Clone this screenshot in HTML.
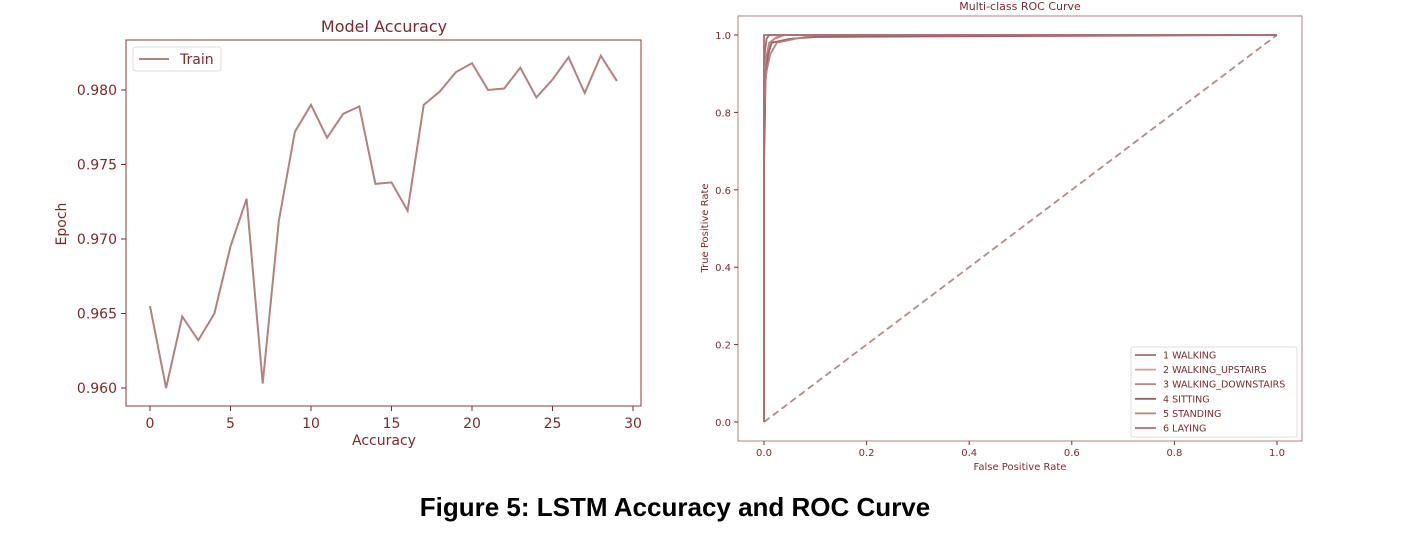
<!DOCTYPE html>
<html><head><meta charset="utf-8"><style>
body{margin:0;background:#fff;}
svg{display:block;font-family:"DejaVu Sans","Liberation Sans",sans-serif;}
</style></head><body>
<svg id="fig" width="1408" height="538" viewBox="0 0 1408 538">
<g id="left"></g>
<g id="right"></g>
<text x="675" y="516" text-anchor="middle" font-family="Liberation Sans, sans-serif" font-weight="bold" font-size="26" fill="#000">Figure 5:  LSTM Accuracy and ROC Curve</text>
</svg>
<script>
const epochs=[0,1,2,3,4,5,6,7,8,9,10,11,12,13,14,15,16,17,18,19,20,21,22,23,24,25,26,27,28,29];
const trainAcc=[0.9655,0.9600,0.9648,0.9632,0.9650,0.9695,0.9727,0.9603,0.9712,0.9772,0.9790,0.9768,0.9784,0.9789,0.9737,0.9738,0.9719,0.9790,0.9799,0.9812,0.9818,0.9800,0.9801,0.9815,0.9795,0.9807,0.9822,0.9798,0.9823,0.9806];
const xTicks=[0,5,10,15,20,25,30];
const yTicks=[0.960,0.965,0.970,0.975,0.980];
const rocClasses=["1 WALKING","2 WALKING_UPSTAIRS","3 WALKING_DOWNSTAIRS","4 SITTING","5 STANDING","6 LAYING"];
const rocFpr=[[0,0,0.002,0.005,0.01,1],[0,0,0.005,0.01,0.02,0.03,1],[0,0,0.004,0.01,0.02,0.04,1],[0,0,0.003,0.008,0.015,0.05,0.1,1],[0,0,0.004,0.012,0.025,0.06,0.1,1],[0,0,0,1]];
const rocTpr=[[0,0.9,0.96,0.99,1,1],[0,0.85,0.93,0.97,0.99,1,1],[0,0.88,0.94,0.98,0.99,1,1],[0,0.65,0.88,0.95,0.98,0.99,0.995,1],[0,0.8,0.9,0.95,0.98,0.99,1,1],[0,0.99,1,1]];
const rocTicks=[0,0.2,0.4,0.6,0.8,1.0];
const NS="http://www.w3.org/2000/svg";
function mk(p,t,a,txt){const e=document.createElementNS(NS,t);for(const k in a)e.setAttribute(k,a[k]);if(txt!==undefined)e.textContent=txt;p.appendChild(e);return e;}
const TC="#7b2b2b", LC="#b08282";
const L=document.getElementById('left');
const lx=v=>150+(v-0)*(633-150)/30, ly=v=>388-(v-0.960)*(388-90)/0.020;
let r=mk(L,'rect',{x:126,y:40,width:515,height:366,fill:'none',stroke:'#8a3a3a','stroke-width':1});

xTicks.forEach(t=>{mk(L,'line',{x1:lx(t),x2:lx(t),y1:406,y2:411,stroke:TC});
 let tx=mk(L,'text',{x:lx(t),y:428,'text-anchor':'middle','font-size':14,fill:TC},t);
 });
yTicks.forEach(t=>{mk(L,'line',{x1:121,x2:126,y1:ly(t),y2:ly(t),stroke:TC});
 let tx=mk(L,'text',{x:117,y:ly(t)+5,'text-anchor':'end','font-size':14,fill:TC},t.toFixed(3));
 });
let pl=mk(L,'polyline',{points:epochs.map((e,i)=>lx(e)+','+ly(trainAcc[i])).join(' '),fill:'none',stroke:LC,'stroke-width':2});

let t1=mk(L,'text',{x:384,y:32,'text-anchor':'middle','font-size':16,fill:TC},'Model Accuracy');

let t2=mk(L,'text',{x:384,y:445,'text-anchor':'middle','font-size':14,fill:TC},'Accuracy');

let t3=mk(L,'text',{x:66,y:224,'text-anchor':'middle','font-size':14,fill:TC,transform:'rotate(-90 66 224)'},'Epoch');

let lg=mk(L,'g',{});

mk(lg,'rect',{x:133,y:47,width:88,height:24,fill:'#fff',stroke:'#ddd',rx:3});
mk(lg,'line',{x1:139,x2:169,y1:59,y2:59,stroke:LC,'stroke-width':2});
mk(lg,'text',{x:180,y:64,'font-size':14,fill:TC},'Train');
const R=document.getElementById('right');
const rx=v=>764+v*(1277-764), ry=v=>422-v*(422-35);
let r2=mk(R,'rect',{x:738,y:16,width:564,height:425,fill:'none',stroke:LC,'stroke-width':1});

rocTicks.forEach(t=>{mk(R,'line',{x1:rx(t),x2:rx(t),y1:441,y2:445,stroke:TC});
 let a=mk(R,'text',{x:rx(t),y:456,'text-anchor':'middle','font-size':10,fill:TC},t.toFixed(1));
 
 mk(R,'line',{x1:734,x2:738,y1:ry(t),y2:ry(t),stroke:TC});
 let b=mk(R,'text',{x:731,y:ry(t)+4,'text-anchor':'end','font-size':10,fill:TC},t.toFixed(1));
 });
let dg=mk(R,'line',{x1:rx(0),y1:ry(0),x2:rx(1),y2:ry(1),stroke:'#b88a8a','stroke-width':1.8,'stroke-dasharray':'7,4'});

const cols=['#a86c6c','#c9a0a0','#b88888','#a06060','#b38080','#a87070'];
rocClasses.forEach((c,i)=>{let p=mk(R,'polyline',{points:rocFpr[i].map((f,j)=>rx(f)+','+ry(rocTpr[i][j])).join(' '),fill:'none',stroke:cols[i],'stroke-width':1.8});
 });
let a1=mk(R,'text',{x:1020,y:10,'text-anchor':'middle','font-size':11,fill:TC},'Multi-class ROC Curve');

let a2=mk(R,'text',{x:1020,y:470,'text-anchor':'middle','font-size':10,fill:TC},'False Positive Rate');

let a3=mk(R,'text',{x:708,y:228,'text-anchor':'middle','font-size':10,fill:TC,transform:'rotate(-90 708 228)'},'True Positive Rate');

let rl=mk(R,'g',{});

mk(rl,'rect',{x:1131,y:347,width:166,height:90,fill:'#fff',stroke:'#ddd',rx:2});
rocClasses.forEach((c,i)=>{const y=355+i*14.6;
 mk(rl,'line',{x1:1135,x2:1156,y1:y,y2:y,stroke:cols[i],'stroke-width':1.8});
 let e=mk(rl,'text',{x:1163,y:y+3.5,'font-size':9.5,fill:TC},c);
 });
</script>
</body></html>
